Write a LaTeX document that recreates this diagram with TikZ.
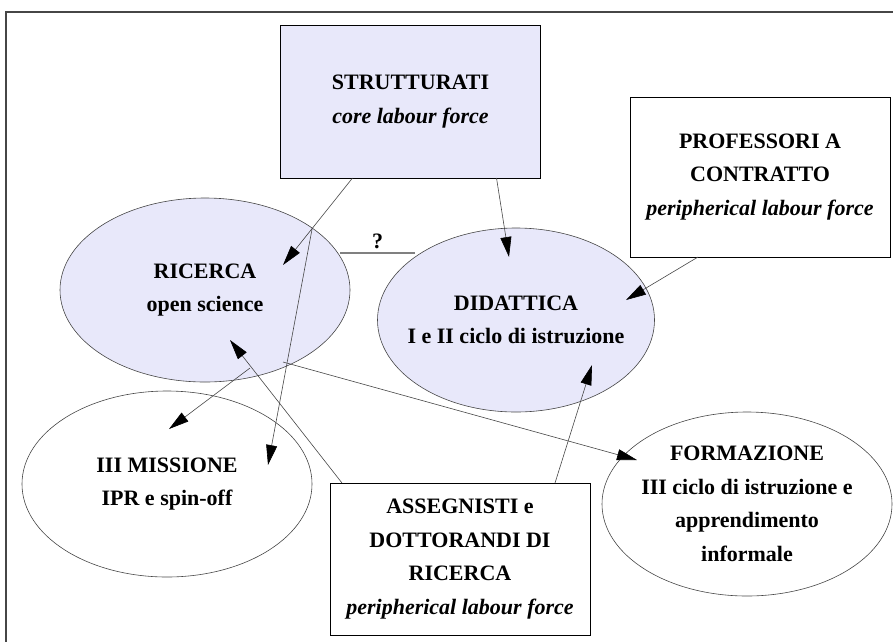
\documentclass[tikz,border=0pt]{standalone}
\usepackage{fontspec}
\setmainfont{Liberation Serif}
\usepackage{tikz}
\usetikzlibrary{shapes.geometric, positioning, quotes, graphs, arrows.meta, calc}
\definecolor{lavanda}{RGB}{232,232,250}
\definecolor{bordo}{RGB}{70,70,70}
\definecolor{grigio}{RGB}{128,128,128}

\tikzset{
    ruolo/.style={draw=black, line width=0.9pt, rectangle, align=center, inner sep=0pt, outer sep=0pt, minimum width=260pt, minimum height=153pt},
    attivita/.style={draw=bordo, line width=0.6pt, ellipse, align=center, inner sep=-12pt, outer sep=0pt, minimum width=290pt, minimum height=184pt},
    dubbio/.style={draw=grigio, line width=2pt}
}

\begin{document}
\begin{tikzpicture}[x=1pt, y=-1pt, node distance=10pt,
    every node/.style={font=\fontsize{22}{33.5}\selectfont\bfseries},
    every edge/.style={draw=bordo, line width=0.6pt},
    >={Triangle[length=20pt, width=11pt, color=black]}]
    \useasboundingbox (0,0) rectangle (893,641);
    \clip (0,0) rectangle (893,641);
    \draw[bordo, line width=1.2pt] (6,12) rectangle (910,660);

    \node[ruolo, fill=lavanda] (strutturati) at (410.5,101.5) {STRUTTURATI\\\textit{core labour force}};
    \node[ruolo, minimum height=160pt] (professori) at (760,177) {PROFESSORI A\\CONTRATTO\\\textit{peripherical labour force}};
    \node[ruolo, minimum height=152pt] (assegnisti) at (460,559) {ASSEGNISTI e\\DOTTORANDI DI\\RICERCA\\\textit{peripherical labour force}};
    \node[attivita, fill=lavanda] (ricerca) at (205,290) {RICERCA\\open science};
    \node[attivita, fill=lavanda, minimum width=277pt] (didattica) at (516,320) {DIDATTICA\\I e II ciclo di istruzione};
    \node[attivita, minimum height=186pt] (terza missione) at (167,484) {III MISSIONE\\IPR e spin-off};
    \node[attivita] (formazione) at (747,504) {FORMAZIONE\\III ciclo di istruzione e\\apprendimento\\informale};

    % estremi delle frecce
    \coordinate (strutturati a) at ($(strutturati.south)+(-58,0)$);
    \coordinate (strutturati b) at ($(strutturati.south)+(86,0)$);
    \coordinate (ricerca in) at ($(ricerca)+(78,-25)$);
    \coordinate (didattica in) at ($(didattica)+(-7,-63)$);
    \coordinate (ricerca bordo) at (ricerca.30);
    \coordinate (missione in) at ($(terza missione)+(101,-19)$);
    \coordinate (ricerca out) at ($(ricerca)+(45,78)$);
    \coordinate (missione in 2) at ($(terza missione)+(2,-55)$);
    \coordinate (assegnisti a) at ($(assegnisti.north)+(-118,0)$);
    \coordinate (ricerca in 2) at ($(ricerca)+(25,50)$);
    \coordinate (assegnisti b) at ($(assegnisti.north)+(95,0)$);
    \coordinate (didattica in 2) at ($(didattica)+(76,45)$);
    \coordinate (ricerca out 2) at ($(ricerca)+(78,72)$);
    \coordinate (formazione in) at ($(formazione)+(-110,-44)$);
    \coordinate (professori a) at ($(professori.south)+(-62,0)$);
    \coordinate (didattica in 3) at ($(didattica)+(110,-20)$);
    \coordinate (dubbio a) at ($(ricerca)+(135,-37)$);
    \coordinate (dubbio b) at ($(didattica)+(-101,-67)$);

    \graph{(strutturati a) -> (ricerca in);
    (strutturati b) -> (didattica in);
    (ricerca bordo) -> (missione in);
    (ricerca out) -> (missione in 2);
    (assegnisti a) -> (ricerca in 2);
    (assegnisti b) -> (didattica in 2);
    (ricerca out 2) -> (formazione in);
    (professori a) -> (didattica in 3);
    (dubbio a) --[dubbio, "?"] (dubbio b)};
\end{tikzpicture}
\end{document}
